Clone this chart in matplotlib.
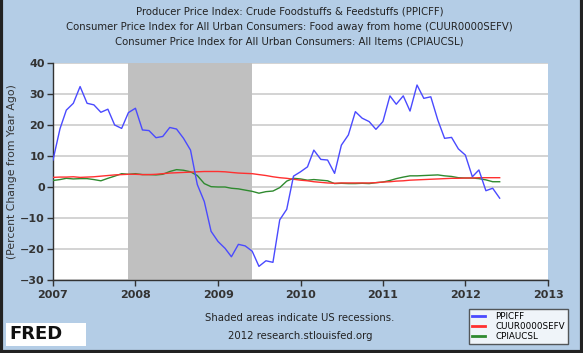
import numpy as np
import pandas as pd
import matplotlib
matplotlib.use("Agg")
import matplotlib.pyplot as plt
import matplotlib.dates as mdates
from matplotlib.patches import Rectangle
from matplotlib.lines import Line2D

# monthly year-over-year % change, Jan 2007 - Jun 2012
ppicff = [
    8.7, 18.8, 24.8, 27.0, 32.4, 27.0, 26.5, 24.1, 25.1, 20.0, 18.9, 24.0,
    25.4, 18.4, 18.2, 15.9, 16.3, 19.2, 18.7, 15.7, 11.9, 0.8, -4.7, -14.3,
    -17.6, -19.8, -22.5, -18.5, -19.0, -20.7, -25.6, -23.8, -24.3, -10.6, -7.2, 3.5,
    4.9, 6.5, 11.9, 8.9, 8.7, 4.4, 13.5, 16.8, 24.3, 22.2, 21.1, 18.6,
    21.1, 29.4, 26.7, 29.4, 24.5, 32.9, 28.6, 29.1, 21.6, 15.7, 16.0, 12.3,
    10.3, 3.3, 5.5, -1.2, -0.4, -3.6,
]
cuur0000sefv = [
    3.1, 3.2, 3.2, 3.3, 3.1, 3.2, 3.3, 3.5, 3.7, 3.9, 4.0, 4.1,
    4.1, 4.0, 4.0, 4.1, 4.3, 4.5, 4.6, 4.7, 4.8, 4.9, 5.0, 5.0,
    5.0, 4.9, 4.7, 4.5, 4.4, 4.3, 4.0, 3.7, 3.3, 3.0, 2.8, 2.5,
    2.2, 2.0, 1.7, 1.5, 1.3, 1.2, 1.3, 1.3, 1.3, 1.3, 1.3, 1.4,
    1.6, 1.7, 1.9, 2.0, 2.2, 2.3, 2.4, 2.5, 2.6, 2.7, 2.8, 2.8,
    2.9, 2.9, 3.0, 3.0, 3.0, 3.0,
]
cpiaucsl = [
    2.1, 2.4, 2.8, 2.6, 2.7, 2.7, 2.4, 2.0, 2.8, 3.5, 4.3, 4.1,
    4.3, 4.0, 4.0, 3.9, 4.1, 5.0, 5.6, 5.4, 4.9, 3.7, 1.1, 0.1,
    0.0, 0.0, -0.4, -0.6, -1.0, -1.4, -2.0, -1.5, -1.3, -0.2, 1.9, 2.8,
    2.6, 2.2, 2.4, 2.2, 2.0, 1.1, 1.2, 1.1, 1.1, 1.2, 1.1, 1.4,
    1.6, 2.1, 2.7, 3.2, 3.6, 3.6, 3.7, 3.8, 3.9, 3.6, 3.4, 3.0,
    2.9, 2.9, 2.7, 2.3, 1.7, 1.7,
]
months = pd.date_range("2007-01-01", periods=len(ppicff), freq="MS")
recession = ("2007-12-01", "2009-06-01")
years = list(range(2007, 2014))
y_ticks = [40, 30, 20, 10, 0, -10, -20, -30]

titles = [
    "Producer Price Index: Crude Foodstuffs & Feedstuffs (PPICFF)",
    "Consumer Price Index for All Urban Consumers: Food away from home (CUUR0000SEFV)",
    "Consumer Price Index for All Urban Consumers: All Items (CPIAUCSL)",
]

bg = "#b4cde6"
W, H = 583, 353
fig = plt.figure(figsize=(W / 100, H / 100), dpi=100, facecolor=bg)
ax = fig.add_axes([53 / W, 1 - 280 / H, (548 - 53) / W, (280 - 63) / H])
ax.set_facecolor("white")

ax.axvspan(pd.Timestamp(recession[0]), pd.Timestamp(recession[1]),
           color="#c0c0c0", zorder=1, lw=0)
for v in y_ticks:
    ax.axhline(v, color="#cccccc", lw=1.2, zorder=0.5)

ax.plot(months, cpiaucsl, color="#2f8a2f", lw=1, zorder=3)
ax.plot(months, cuur0000sefv, color="#ff3030", lw=1, zorder=3)
ax.plot(months, ppicff, color="#4a4aff", lw=1, zorder=4)

ax.set_xlim(pd.Timestamp("2007-01-01"), pd.Timestamp("2013-01-01"))
ax.set_ylim(-30, 40)
ax.set_xticks([pd.Timestamp(f"{y}-01-01") for y in years])
ax.xaxis.set_major_formatter(mdates.DateFormatter("%Y"))
ax.set_yticks(y_ticks)
for s in ["top", "right"]:
    ax.spines[s].set_visible(False)
for s in ["left", "bottom"]:
    ax.spines[s].set_color("#333333")
    ax.spines[s].set_linewidth(1)
ax.tick_params(axis="both", colors="#333333", labelsize=8, length=4, width=1)
ax.tick_params(axis="y", pad=2)
for lab in ax.get_xticklabels() + ax.get_yticklabels():
    lab.set_fontweight("bold")
    lab.set_color("#333333")
ax.set_ylabel("(Percent Change from Year Ago)", fontsize=7.8, color="#333333")
ax.yaxis.set_label_coords(-0.072, 0.5)

for i, t in enumerate(titles):
    fig.text(0.497, 1 - (12 + 15 * i) / H, t, ha="center", va="center",
             fontsize=7.3, color="#222222")

fig.text(300 / W, 1 - 318 / H, "Shaded areas indicate US recessions.",
         ha="center", va="center", fontsize=7.3, color="#222222")
fig.text(300 / W, 1 - 336 / H, "2012 research.stlouisfed.org",
         ha="center", va="center", fontsize=7.3, color="#222222")

# FRED logo
fig.patches.append(Rectangle((6 / W, 1 - 346 / H), 80 / W, 23 / H,
                             transform=fig.transFigure, facecolor="white",
                             edgecolor="none"))
fig.text(9 / W, 1 - 334 / H, "FRED", ha="left", va="center", fontsize=13,
         fontweight="bold", color="#111111", family="DejaVu Sans")

# legend
handles = ax.get_lines()[::-1]
leg = fig.legend(handles, ["PPICFF", "CUUR0000SEFV", "CPIAUCSL"],
                 loc="upper left", bbox_to_anchor=(469 / W, 1 - 309 / H),
                 fontsize=6.3, frameon=True, fancybox=False, edgecolor="#333333",
                 handlelength=1.5, borderpad=0.3, labelspacing=0.15,
                 handletextpad=1.2, borderaxespad=0)
leg.get_frame().set_linewidth(1)
for h in leg.get_lines():
    h.set_linewidth(2)

# dark frame on left, right and bottom
for xs, ys in [([0.002, 0.002], [0, 1]), ([0.998, 0.998], [0, 1]),
               ([0, 1], [0.004, 0.004])]:
    fig.add_artist(Line2D(xs, ys, transform=fig.transFigure,
                          color="#222222", lw=3))

fig.savefig("out.png", dpi=100, facecolor=bg)
